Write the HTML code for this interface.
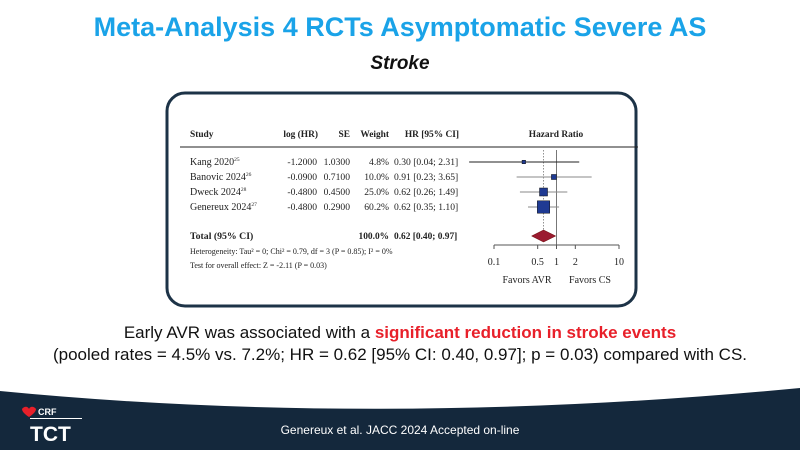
<!DOCTYPE html>
<html><head><meta charset="utf-8"><style>
body{margin:0;width:800px;height:450px;overflow:hidden;background:#fff;font-family:"Liberation Sans",sans-serif;position:relative}
.t{position:absolute;white-space:nowrap}
</style></head><body>
<div class="t" style="left:0;width:800px;text-align:center;top:12px;font-size:27px;font-weight:bold;color:#1aa3e8">Meta-Analysis 4 RCTs Asymptomatic Severe AS</div>
<div class="t" style="left:0;width:800px;text-align:center;top:53px;font-size:19px;font-weight:bold;font-style:italic;color:#111">Stroke</div>
<svg width="800" height="450" style="position:absolute;left:0;top:0" font-family="Liberation Serif, serif">
<rect x="167" y="93" width="469" height="213" rx="18" fill="#fff" stroke="#1d3347" stroke-width="3"/>
<g id="g" font-size="9" fill="#222"></g>
</svg>
<div class="t" style="left:0;width:800px;text-align:center;top:323px;font-size:17px;color:#111">Early AVR was associated with a <b style="color:#e8202a">significant reduction in stroke events</b></div>
<div class="t" style="left:0;width:800px;text-align:center;top:345px;font-size:17px;color:#111">(pooled rates = 4.5% vs. 7.2%; HR = 0.62 [95% CI: 0.40, 0.97]; p = 0.03) compared with CS.</div>
<svg width="800" height="450" style="position:absolute;left:0;top:0"><path d="M0,391 Q380,428 800,388 L800,450 L0,450Z" fill="#14283c"/>
<path d="M22,409 c2,-3 6,-3 7,0 c1,-3 5,-3 7,0 c0,3 -4,6 -7,8 c-3,-2 -7,-5 -7,-8z" fill="#e8202a"/>
<text x="38" y="415" font-size="9" font-weight="bold" fill="#fff" font-family="Liberation Sans">CRF</text>
<rect x="30" y="418" width="52" height="1" fill="#fff"/>
<text x="30" y="441" font-size="21" font-weight="bold" fill="#fff" font-family="Liberation Sans">TCT</text></svg>
<div class="t" style="left:0;width:800px;text-align:center;top:423px;font-size:12px;color:#fff">Genereux et al. JACC 2024 Accepted on-line</div>
<script>
const studies=["Kang 2020","Banovic 2024","Dweck 2024","Genereux 2024"];
const sups=["25","26","28","27"];
const logHR=["-1.2000","-0.0900","-0.4800","-0.4800"];
const se=["1.0300","0.7100","0.4500","0.2900"];
const weights=[4.8,10.0,25.0,60.2];
const hr=[0.30,0.91,0.62,0.62];
const lo=[0.04,0.23,0.26,0.35];
const hi=[2.31,3.65,1.49,1.10];
const totalHR=0.62,totalLo=0.40,totalHi=0.97;
const ticks=[0.1,0.5,1,2,10];
const NS="http://www.w3.org/2000/svg",g=document.getElementById('g');
const X=v=>494+(Math.log10(v)+1)*62.5, xmin=468, xmax=604;
const cx=v=>Math.min(xmax,Math.max(xmin,X(v)));
function el(t,a,txt){const e=document.createElementNS(NS,t);for(const k in a)e.setAttribute(k,a[k]);if(txt!=null)e.textContent=txt;g.appendChild(e);return e;}
function tx(x,y,s,anchor,bold,name,size){const e=el('text',{x:x,y:y,'text-anchor':anchor||'start','font-weight':bold?'bold':'normal','font-size':size||9.6},s);return e;}
tx(190,137,"Study","start",1,"header-study",9.4);tx(318,137,"log (HR)","end",1,"header-loghr",9.4);tx(350,137,"SE","end",1,"header-se",9.4);
tx(389,137,"Weight","end",1,"header-weight",9.4);tx(459,137,"HR [95% CI]","end",1,"header-hr",9.4);tx(556,137,"Hazard Ratio","middle",1,"header-plot",9.4);
let l=el('line',{x1:180,y1:147,x2:638,y2:147,stroke:'#222','stroke-width':1});
const ys=[162,177,192,207];
el('line',{x1:X(totalHR),y1:150,x2:X(totalHR),y2:240,stroke:'#777','stroke-dasharray':'1.5,1.5','stroke-width':0.8});
l=el('line',{x1:X(1),y1:150,x2:X(1),y2:245,stroke:'#777','stroke-width':1});
studies.forEach((s,i)=>{const y=ys[i];
 const t=tx(190,y+3,s,"start",0,"study-name",10);const sp=document.createElementNS(NS,'tspan');sp.setAttribute('font-size',5.5);sp.setAttribute('dy',-4);sp.textContent=sups[i];t.appendChild(sp);
 tx(317,y+3,logHR[i],"end",0,"loghr-value");tx(350,y+3,se[i],"end",0,"se-value");
 tx(389,y+3,weights[i].toFixed(1)+"%","end",0,"weight-value");
 tx(394,y+3,hr[i].toFixed(2)+" ["+lo[i].toFixed(2)+"; "+hi[i].toFixed(2)+"]","start",0,"hr-ci-text");
 const c=el('line',{x1:cx(lo[i]),y1:y,x2:cx(hi[i]),y2:y,stroke:i==0?'#222':'#888','stroke-width':0.9});
 const sz=Math.max(3,Math.sqrt(weights[i])*1.6);
 const r=el('rect',{x:X(hr[i])-sz/2,y:y-sz/2,width:sz,height:sz,fill:'#1f3a93',stroke:'#111','stroke-width':0.5});});
const ty=236;
tx(190,ty+3,"Total (95% CI)","start",1,"total-label",9.8);tx(389,ty+3,"100.0%","end",1,"total-weight",9.4);
tx(394,ty+3,totalHR.toFixed(2)+" ["+totalLo.toFixed(2)+"; "+totalHi.toFixed(2)+"]","start",1,"total-hr",9.4);
const d=el('polygon',{points:`${X(totalLo)},${ty} ${X(totalHR)},${ty-6} ${X(totalHi)},${ty} ${X(totalHR)},${ty+6}`,fill:'#9b1b30',stroke:'#600',"stroke-width":0.5});
const h=tx(190,254,"","start",0,"heterogeneity-text",8);h.textContent="Heterogeneity: Tau² = 0; Chi² = 0.79, df = 3 (P = 0.85); I² = 0%";
tx(190,268,"Test for overall effect: Z = -2.11 (P = 0.03)","start",0,"overall-effect-text",8);
l=el('line',{x1:X(0.1),y1:245,x2:X(10),y2:245,stroke:'#555','stroke-width':1});
ticks.forEach(v=>{el('line',{x1:X(v),y1:245,x2:X(v),y2:249,stroke:'#555'});tx(X(v),265,String(v),"middle",0,"x-tick-label",10);});
tx(527,283,"Favors AVR","middle",0,"favors-avr-label",10);tx(590,283,"Favors CS","middle",0,"favors-cs-label",10);
</script>
</body></html>
